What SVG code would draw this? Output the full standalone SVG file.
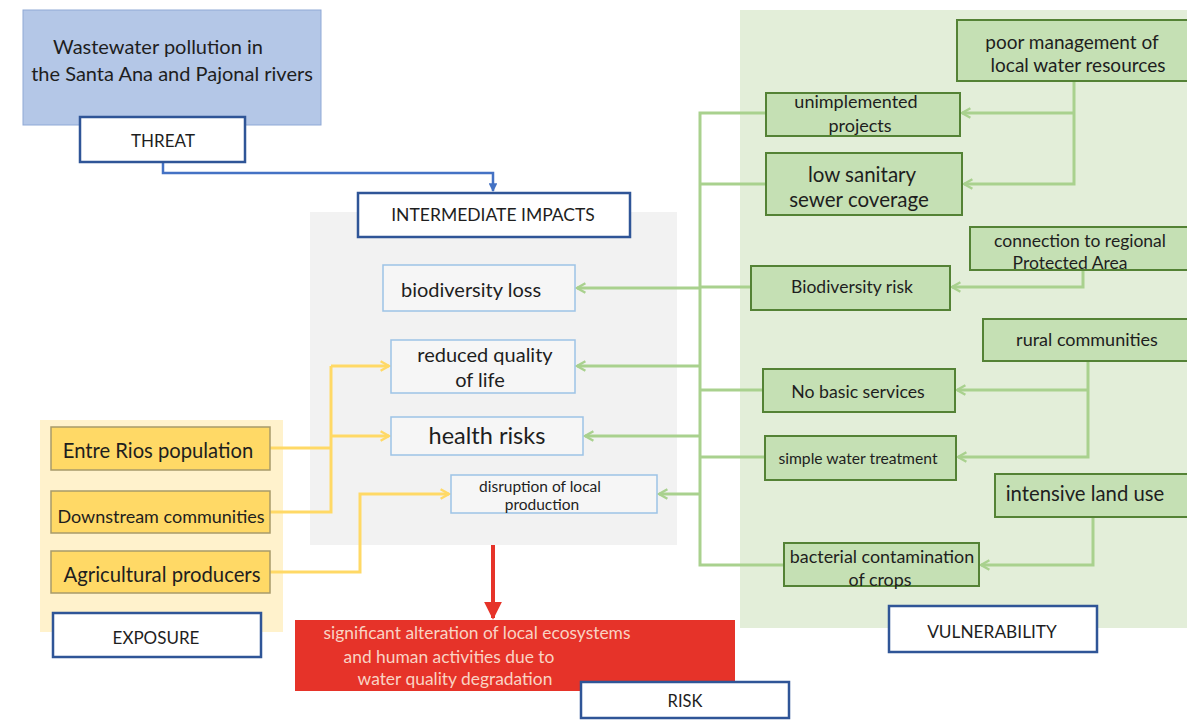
<svg xmlns="http://www.w3.org/2000/svg" width="1187" height="724" viewBox="0 0 1187 724">
<defs>
<style>
text{font-family:Lato,"Open Sans","Liberation Sans",sans-serif;fill:#1e1e1e;text-anchor:middle}
.lbl{fill:#fff;stroke:#2f5597;stroke-width:2.5}
.imp{fill:#fff;fill-opacity:0.35;stroke:#9dc3e6;stroke-width:1.5}
.gb{fill:#c5e0b4;stroke:#548235;stroke-width:2}
.yb{fill:#ffd966;stroke:#a89a6a;stroke-width:1.5}
.gl{fill:none;stroke:#a9d18e;stroke-width:3}
.yl{fill:none;stroke:#ffd966;stroke-width:3}
.bl{fill:none;stroke:#4472c4;stroke-width:2.5}
.rt{fill:#f9d3c4}
</style>
<marker id="ga" viewBox="0 0 10 10" refX="8" refY="5" markerWidth="4" markerHeight="4" orient="auto" markerUnits="strokeWidth"><path d="M1,1 L8,5 L1,9" fill="none" stroke="#a9d18e" stroke-width="2"/></marker>
<marker id="ya" viewBox="0 0 10 10" refX="8" refY="5" markerWidth="4" markerHeight="4" orient="auto" markerUnits="strokeWidth"><path d="M1,1 L8,5 L1,9" fill="none" stroke="#ffd966" stroke-width="2"/></marker>
<marker id="ba" viewBox="0 0 10 10" refX="9" refY="5" markerWidth="3.5" markerHeight="3.5" orient="auto" markerUnits="strokeWidth"><path d="M0,0 L10,5 L0,10 Z" fill="#4472c4"/></marker>
<marker id="ra" viewBox="0 0 10 10" refX="9" refY="5" markerWidth="4.5" markerHeight="4.5" orient="auto" markerUnits="strokeWidth"><path d="M0,0 L10,5 L0,10 Z" fill="#e63329"/></marker>
</defs>
<rect width="1187" height="724" fill="#fff"/>
<rect id="impacts-panel" x="310" y="212" width="367" height="333" fill="#f2f2f2"/>
<rect id="vulnerability-panel" x="740" y="10" width="447" height="618" fill="#e3eed9"/>
<rect id="exposure-panel" x="40" y="420" width="243" height="212" fill="#fff2cc"/>

<g id="connectors">
<path class="bl" d="M163,162 V173 H493 V191" marker-end="url(#ba)"/>
<path d="M493,545 V618" fill="none" stroke="#e63329" stroke-width="4" marker-end="url(#ra)"/>
<path class="yl" d="M270,448 H331"/>
<path class="yl" d="M270,512 H331 V366"/>
<path class="yl" d="M331,366 H389" marker-end="url(#ya)"/>
<path class="yl" d="M331,436 H389" marker-end="url(#ya)"/>
<path class="yl" d="M270,572 H360 V494 H449" marker-end="url(#ya)"/>
<path class="gl" d="M766,113 H700 V565 H784"/>
<path class="gl" d="M700,184 H766"/>
<path class="gl" d="M700,287 H751"/>
<path class="gl" d="M700,390 H763"/>
<path class="gl" d="M700,457 H765"/>
<path class="gl" d="M700,288 H577" marker-end="url(#ga)"/>
<path class="gl" d="M700,366 H577" marker-end="url(#ga)"/>
<path class="gl" d="M700,436 H585" marker-end="url(#ga)"/>
<path class="gl" d="M700,494 H659" marker-end="url(#ga)"/>
<path class="gl" d="M1074,81 V184 H964" marker-end="url(#ga)"/>
<path class="gl" d="M1074,113 H962" marker-end="url(#ga)"/>
<path class="gl" d="M1083,270 V287 H952" marker-end="url(#ga)"/>
<path class="gl" d="M1088,361 V457 H958" marker-end="url(#ga)"/>
<path class="gl" d="M1088,390 H957" marker-end="url(#ga)"/>
<path class="gl" d="M1093,517 V565 H981" marker-end="url(#ga)"/>
</g>

<g id="threat">
<rect x="23" y="10" width="298" height="115" fill="#b4c7e7" stroke="#8fa9d6" stroke-width="1"/>
<text x="158" y="54" font-size="20">Wastewater pollution in</text>
<text x="172" y="81" font-size="20">the Santa Ana and Pajonal rivers</text>
</g>
<g id="threat-label"><rect class="lbl" x="80" y="117" width="165" height="45"/><text x="163" y="147" font-size="17">THREAT</text></g>
<g id="intermediate-label"><rect class="lbl" x="358" y="193" width="272" height="44"/><text x="493" y="221" font-size="17.5">INTERMEDIATE IMPACTS</text></g>

<g id="biodiversity-loss"><rect class="imp" x="383" y="265" width="192" height="46"/><text x="471" y="297" font-size="20">biodiversity loss</text></g>
<g id="reduced-quality"><rect class="imp" x="391" y="340" width="184" height="53"/><text x="485" y="362" font-size="20">reduced quality</text><text x="480" y="387" font-size="20">of life</text></g>
<g id="health-risks"><rect class="imp" x="391" y="417" width="192" height="38"/><text x="487" y="444" font-size="23.5">health risks</text></g>
<g id="disruption"><rect class="imp" x="451" y="475" width="206" height="38"/><text x="540" y="492" font-size="15.5">disruption of local</text><text x="542" y="510" font-size="15.5">production</text></g>

<g id="poor-management"><rect class="gb" x="957" y="20" width="232" height="61"/><text x="1072" y="49" font-size="19">poor management of</text><text x="1078" y="72" font-size="19">local water resources</text></g>
<g id="unimplemented"><rect class="gb" x="766" y="93" width="194" height="43"/><text x="856" y="108" font-size="18">unimplemented</text><text x="860" y="132" font-size="18">projects</text></g>
<g id="low-sanitary"><rect class="gb" x="766" y="153" width="196" height="62"/><text x="862" y="182" font-size="20.5">low sanitary</text><text x="859" y="207" font-size="20.5">sewer coverage</text></g>
<g id="connection-pa"><rect class="gb" x="970" y="227" width="219" height="43"/><text x="1080" y="247" font-size="17.5">connection to regional</text><text x="1070" y="269" font-size="17.5">Protected Area</text></g>
<g id="biodiversity-risk"><rect class="gb" x="751" y="266" width="199" height="44"/><text x="852" y="293" font-size="17.5">Biodiversity risk</text></g>
<g id="rural-communities"><rect class="gb" x="983" y="319" width="206" height="42"/><text x="1087" y="346" font-size="18">rural communities</text></g>
<g id="no-basic-services"><rect class="gb" x="763" y="369" width="192" height="43"/><text x="858" y="398" font-size="17.7">No basic services</text></g>
<g id="simple-water"><rect class="gb" x="765" y="436" width="191" height="44"/><text x="858" y="464" font-size="15.7">simple water treatment</text></g>
<g id="intensive-land"><rect class="gb" x="995" y="474" width="194" height="43"/><text x="1085" y="501" font-size="20.3">intensive land use</text></g>
<g id="bacterial"><rect class="gb" x="784" y="543" width="195" height="43"/><text x="882" y="563" font-size="17.9">bacterial contamination</text><text x="880" y="586" font-size="17.9">of crops</text></g>
<g id="vulnerability-label"><rect class="lbl" x="889" y="606" width="208" height="46"/><text x="992" y="638" font-size="17.3">VULNERABILITY</text></g>

<g id="entre-rios"><rect class="yb" x="51" y="427" width="219" height="43"/><text x="158" y="458" font-size="20.2">Entre Rios population</text></g>
<g id="downstream"><rect class="yb" x="51" y="491" width="219" height="42"/><text x="161" y="523" font-size="18">Downstream communities</text></g>
<g id="agricultural"><rect class="yb" x="51" y="551" width="219" height="42"/><text x="162" y="582" font-size="20.3">Agricultural producers</text></g>
<g id="exposure-label"><rect class="lbl" x="53" y="613" width="208" height="44"/><text x="156" y="644" font-size="17">EXPOSURE</text></g>

<g id="risk">
<rect x="295" y="620" width="440" height="71" fill="#e63329"/>
<text class="rt" x="477" y="639" font-size="17.4">significant alteration of local ecosystems</text>
<text class="rt" x="449" y="663" font-size="17.4">and human activities due to</text>
<text class="rt" x="455" y="685" font-size="17.4">water quality degradation</text>
</g>
<g id="risk-label"><rect class="lbl" x="581" y="682" width="208" height="36"/><text x="685" y="707" font-size="16.5">RISK</text></g>
</svg>
